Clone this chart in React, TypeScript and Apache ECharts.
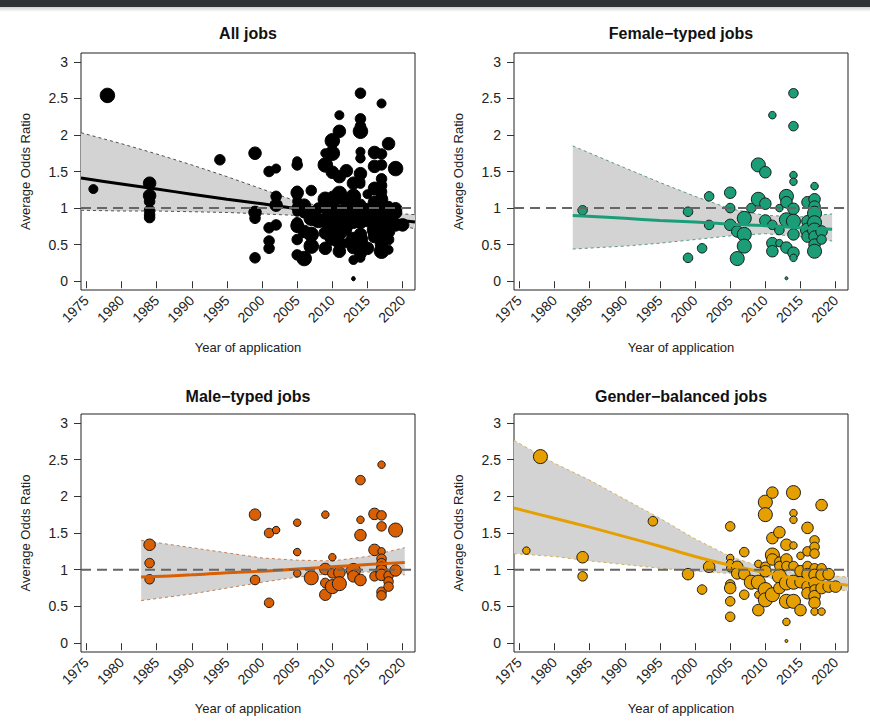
import React, { useEffect, useRef } from "react";
import * as echarts from "echarts";

// ---------------- data ----------------
// [year of application, average odds ratio, relative study weight 1..5]
const femalePoints: number[][] = [
  [1984, 0.97, 3], [1999, 0.95, 3], [1999, 0.32, 3], [2001, 0.45, 3], [2002, 1.16, 3],
  [2002, 0.77, 3], [2005, 1.21, 4], [2005, 1.0, 3], [2005, 0.77, 4], [2006, 0.68, 4],
  [2006, 0.31, 5], [2007, 0.86, 5], [2007, 0.64, 5], [2007, 0.48, 5], [2008, 1.0, 3],
  [2009, 1.59, 5], [2009, 1.12, 5], [2010, 1.49, 4], [2010, 1.06, 4], [2010, 0.83, 4],
  [2011, 2.27, 2], [2011, 0.77, 3], [2011, 0.52, 4], [2011, 0.41, 4], [2012, 1.0, 2],
  [2012, 0.7, 3], [2012, 0.52, 2], [2013, 1.16, 5], [2013, 1.08, 4], [2013, 0.84, 5],
  [2013, 0.46, 4], [2013, 0.04, 1], [2014, 2.57, 3], [2014, 2.12, 3], [2014, 1.45, 2],
  [2014, 1.36, 2], [2014, 0.99, 4], [2014, 0.82, 5], [2014, 0.64, 4], [2014, 0.39, 4],
  [2014, 0.32, 2], [2016, 1.08, 4], [2016, 0.82, 4], [2016, 0.7, 5], [2016, 0.61, 4],
  [2017, 1.3, 2], [2017, 1.12, 4], [2017, 1.02, 4], [2017, 0.93, 5], [2017, 0.8, 5],
  [2017, 0.7, 5], [2017, 0.61, 4], [2017, 0.5, 4], [2017, 0.41, 5], [2018, 0.68, 4],
  [2018, 0.57, 3],
];

const malePoints: number[][] = [
  [1984, 1.34, 4], [1984, 1.09, 3], [1984, 0.87, 3], [1999, 1.75, 4], [1999, 0.86, 3],
  [2001, 1.5, 3], [2001, 0.55, 3], [2002, 1.54, 2], [2005, 1.64, 2], [2005, 1.24, 2],
  [2005, 0.95, 2], [2007, 0.89, 5], [2009, 1.75, 2], [2009, 1.01, 4], [2009, 0.82, 3],
  [2009, 0.66, 4], [2010, 1.17, 2], [2010, 0.95, 3], [2010, 0.77, 5], [2011, 0.96, 4],
  [2011, 0.81, 5], [2013, 0.99, 5], [2013, 0.91, 4], [2014, 2.22, 3], [2014, 1.68, 2],
  [2014, 1.47, 4], [2014, 0.86, 4], [2016, 1.76, 4], [2016, 1.27, 4], [2016, 0.91, 3],
  [2017, 2.43, 2], [2017, 1.74, 3], [2017, 1.59, 3], [2017, 1.25, 2], [2017, 1.15, 3],
  [2017, 1.09, 3], [2017, 1.04, 3], [2017, 0.99, 4], [2017, 0.93, 4], [2017, 0.7, 3],
  [2017, 0.65, 3], [2018, 0.92, 3], [2018, 0.84, 3], [2018, 0.77, 3], [2019, 1.54, 5],
  [2019, 0.99, 4],
];

const balancedPoints: number[][] = [
  [1976, 1.26, 2], [1978, 2.54, 5], [1984, 1.17, 4], [1984, 0.91, 3], [1994, 1.66, 3],
  [1999, 0.94, 4], [2001, 0.73, 3], [2002, 1.04, 4], [2005, 1.59, 3], [2005, 1.16, 2],
  [2005, 1.09, 2], [2005, 1.02, 2], [2005, 0.8, 3], [2005, 0.75, 4], [2005, 0.57, 3],
  [2005, 0.36, 3], [2006, 1.04, 4], [2006, 0.95, 4], [2007, 1.24, 3], [2007, 0.94, 4],
  [2007, 0.66, 3], [2008, 0.83, 5], [2009, 1.08, 2], [2009, 0.83, 5], [2009, 0.66, 2],
  [2009, 0.45, 4], [2010, 1.92, 5], [2010, 1.75, 5], [2010, 1.04, 3], [2010, 0.98, 4],
  [2010, 0.73, 5], [2010, 0.59, 5], [2011, 2.05, 4], [2011, 1.43, 4], [2011, 1.2, 5],
  [2011, 1.14, 4], [2011, 0.66, 5], [2012, 1.51, 4], [2012, 1.11, 3], [2012, 1.05, 3],
  [2012, 0.91, 5], [2012, 0.75, 4], [2013, 1.34, 4], [2013, 1.14, 4], [2013, 1.05, 3],
  [2013, 0.82, 5], [2013, 0.57, 5], [2013, 0.29, 2], [2013, 0.03, 1], [2014, 2.05, 5],
  [2014, 1.77, 2], [2014, 1.68, 2], [2014, 1.33, 2], [2014, 1.05, 3], [2014, 0.83, 5],
  [2014, 0.57, 5], [2015, 1.19, 2], [2015, 0.98, 4], [2015, 0.83, 4], [2015, 0.45, 4],
  [2016, 1.57, 4], [2016, 1.25, 3], [2016, 1.05, 3], [2016, 0.94, 4], [2016, 0.77, 4],
  [2016, 0.68, 4], [2017, 1.4, 3], [2017, 1.31, 3], [2017, 1.22, 3], [2017, 1.02, 3],
  [2017, 0.93, 4], [2017, 0.82, 4], [2017, 0.73, 3], [2017, 0.64, 4], [2017, 0.55, 4],
  [2017, 0.43, 2], [2018, 1.88, 4], [2018, 1.02, 3], [2018, 0.93, 4], [2018, 0.75, 4],
  [2018, 0.43, 2], [2019, 0.94, 4], [2019, 0.77, 4], [2020, 0.77, 4],
];

const allPoints: number[][] = [...femalePoints, ...malePoints, ...balancedPoints];

// fitted meta-regression lines with confidence bands
const allFitYears = [1974.24, 1980, 1985, 1990, 1995, 2000, 2005, 2010, 2015, 2021.76];
const allFit = [1.41, 1.33, 1.26, 1.19, 1.12, 1.06, 0.99, 0.93, 0.88, 0.81];
const allUpper = [2.03, 1.88, 1.74, 1.59, 1.43, 1.26, 1.09, 1.0, 0.95, 0.91];
const allLower = [0.97, 0.96, 0.96, 0.95, 0.94, 0.92, 0.9, 0.87, 0.82, 0.72];

const femaleFitYears = [1982.6, 1990, 1995, 2000, 2005, 2010, 2015, 2019.5];
const femaleFit = [0.9, 0.86, 0.83, 0.81, 0.78, 0.76, 0.73, 0.71];
const femaleUpper = [1.85, 1.55, 1.35, 1.16, 0.99, 0.9, 0.88, 0.92];
const femaleLower = [0.44, 0.48, 0.52, 0.57, 0.62, 0.65, 0.61, 0.55];

const maleFitYears = [1982.8, 1990, 1995, 2000, 2005, 2010, 2015, 2020.3];
const maleFit = [0.9, 0.93, 0.96, 0.98, 1.01, 1.04, 1.07, 1.1];
const maleUpper = [1.4, 1.3, 1.23, 1.16, 1.13, 1.12, 1.18, 1.3];
const maleLower = [0.58, 0.67, 0.75, 0.83, 0.9, 0.95, 0.97, 0.93];

const balancedFitYears = [1974.24, 1980, 1985, 1990, 1995, 2000, 2005, 2010, 2015, 2021.76];
const balancedFit = [1.84, 1.7, 1.58, 1.45, 1.32, 1.18, 1.06, 0.96, 0.87, 0.79];
const balancedUpper = [2.76, 2.45, 2.22, 1.96, 1.7, 1.42, 1.18, 1.02, 0.95, 0.9];
const balancedLower = [1.22, 1.18, 1.12, 1.07, 1.02, 0.98, 0.95, 0.9, 0.8, 0.71];

const panelTitles = ["All jobs", "Female\u2212typed jobs", "Male\u2212typed jobs", "Gender\u2212balanced jobs"];
const xTicks = [1975, 1980, 1985, 1990, 1995, 2000, 2005, 2010, 2015, 2020];
const yTicks = [0, 0.5, 1, 1.5, 2, 2.5, 3];
const referenceOR = 1;
const xLabel = "Year of application";
const yLabel = "Average Odds Ratio";

// ---------------- styling ----------------
const X_MIN = 1974.24;
const X_MAX = 2021.76;
const Y_MIN = -0.12;
const Y_MAX = 3.12;
const FONT = "'Liberation Sans', Arial, Helvetica, sans-serif";
const SIZE_BY_WEIGHT = [0, 3, 7.5, 9.5, 11.5, 14];
const SIZE_BY_WEIGHT_ALL = [0, 3.5, 9, 10.5, 12.5, 14.5];

const panelColors = ["#000000", "#1b9e77", "#d95f02", "#e69f00"];
const bandBorderColors = ["#505050", "#5f9684", "#c08058", "#d2b055"];
const pointBorders = ["#000000", "#1a1a1a", "#1a1a1a", "#1a1a1a"];

const grids = [
  { left: 81, top: 53, width: 334, height: 237 },
  { left: 514, top: 53, width: 334, height: 237 },
  { left: 81, top: 414, width: 334, height: 238 },
  { left: 514, top: 414, width: 334, height: 238 },
];

export default function App() {
  const ref = useRef<HTMLDivElement>(null);

  useEffect(() => {
    if (!ref.current) return;
    const chart = echarts.init(ref.current, undefined, { renderer: "svg" });

    const panels = [
      { pts: allPoints, yrs: allFitYears, fit: allFit, up: allUpper, lo: allLower },
      { pts: femalePoints, yrs: femaleFitYears, fit: femaleFit, up: femaleUpper, lo: femaleLower },
      { pts: malePoints, yrs: maleFitYears, fit: maleFit, up: maleUpper, lo: maleLower },
      { pts: balancedPoints, yrs: balancedFitYears, fit: balancedFit, up: balancedUpper, lo: balancedLower },
    ];

    const series: any[] = [];
    panels.forEach((p, i) => {
      const common = { xAxisIndex: i, yAxisIndex: i, silent: true, symbol: "none" };
      const bandRows = p.yrs.map((y, k) => [y, p.lo[k], p.up[k]]);
      const sizes = i === 0 ? SIZE_BY_WEIGHT_ALL : SIZE_BY_WEIGHT;
      // confidence band fill (polygon through the library's coordinate system)
      series.push({
        type: "custom",
        xAxisIndex: i,
        yAxisIndex: i,
        silent: true,
        data: bandRows,
        z: 1,
        renderItem: (params: any, api: any) => {
          if (params.dataIndex !== 0) return null;
          const upperPts = bandRows.map((r) => api.coord([r[0], r[2]]));
          const lowerPts = bandRows.map((r) => api.coord([r[0], r[1]])).reverse();
          return {
            type: "polygon",
            shape: { points: upperPts.concat(lowerPts) },
            style: { fill: "#d3d3d3", stroke: "none" },
          };
        },
      });
      series.push({
        ...common,
        type: "line",
        data: p.yrs.map((y, k) => [y, p.lo[k]]),
        lineStyle: { color: bandBorderColors[i], width: 1, type: [3, 3] },
        z: 2,
      });
      series.push({
        ...common,
        type: "line",
        data: p.yrs.map((y, k) => [y, p.up[k]]),
        lineStyle: { color: bandBorderColors[i], width: 1, type: [3, 3] },
        z: 2,
      });
      series.push({
        xAxisIndex: i,
        yAxisIndex: i,
        silent: true,
        type: "scatter",
        symbol: "circle",
        data: p.pts.map((d) => [d[0], d[1], d[2]]),
        symbolSize: (v: number[]) => sizes[v[2]],
        itemStyle: {
          color: panelColors[i],
          borderColor: pointBorders[i],
          borderWidth: 1,
          opacity: 1,
        },
        z: 3,
      });
      series.push({
        ...common,
        type: "line",
        smooth: 0.3,
        data: p.yrs.map((y, k) => [y, p.fit[k]]),
        lineStyle: { color: panelColors[i], width: 3 },
        z: 4,
      });
      series.push({
        ...common,
        type: "line",
        data: [
          [X_MIN, referenceOR],
          [X_MAX, referenceOR],
        ],
        lineStyle: { color: "#666666", width: 2, type: [10, 6] },
        z: 5,
      });
    });

    const graphics: any[] = [
      { type: "rect", shape: { x: 0, y: 0, width: 870, height: 7 }, style: { fill: "#2f3337" }, silent: true },
      {
        type: "rect",
        shape: { x: 0, y: 7, width: 870, height: 5 },
        style: {
          fill: new echarts.graphic.LinearGradient(0, 0, 0, 1, [
            { offset: 0, color: "rgba(0,0,0,0.18)" },
            { offset: 1, color: "rgba(0,0,0,0)" },
          ]),
        },
        silent: true,
      },
    ];
    grids.forEach((g, i) => {
      const cx = g.left + g.width / 2;
      const top = i < 2;
      graphics.push({
        type: "text",
        x: cx,
        y: top ? 33 : 396,
        style: {
          text: panelTitles[i],
          font: `bold 16px ${FONT}`,
          fill: "#111",
          align: "center",
          verticalAlign: "middle",
          textAlign: "center",
          textVerticalAlign: "middle",
        },
      });
      graphics.push({
        type: "text",
        x: cx,
        y: top ? 347 : 708,
        style: {
          text: xLabel,
          font: `13px ${FONT}`,
          fill: "#222",
          align: "center",
          verticalAlign: "middle",
          textAlign: "center",
          textVerticalAlign: "middle",
        },
      });
      graphics.push({
        type: "text",
        x: g.left - 56,
        y: g.top + g.height / 2,
        rotation: Math.PI / 2,
        style: {
          text: yLabel,
          font: `13px ${FONT}`,
          fill: "#222",
          align: "center",
          verticalAlign: "middle",
          textAlign: "center",
          textVerticalAlign: "middle",
        },
      });
    });

    const option: any = {
      animation: false,
      backgroundColor: "#ffffff",
      grid: grids.map((g) => ({
        ...g,
        show: true,
        borderColor: "#222",
        borderWidth: 1,
        backgroundColor: "transparent",
        containLabel: false,
        outerBoundsMode: "none",
      })),
      xAxis: grids.map((_, i) => ({
        type: "value",
        gridIndex: i,
        min: X_MIN,
        max: X_MAX,
        axisLine: { show: false },
        splitLine: { show: false },
        axisTick: { show: true, inside: false, length: 7, lineStyle: { color: "#333" }, customValues: xTicks },
        axisLabel: {
          customValues: xTicks,
          rotate: 45,
          margin: 8,
          color: "#222",
          fontSize: 14,
          fontFamily: FONT,
          formatter: (v: number) => String(v),
        },
      })),
      yAxis: grids.map((_, i) => ({
        type: "value",
        gridIndex: i,
        min: Y_MIN,
        max: Y_MAX,
        axisLine: { show: false },
        splitLine: { show: false },
        axisTick: { show: true, inside: false, length: 7, lineStyle: { color: "#333" }, customValues: yTicks },
        axisLabel: {
          customValues: yTicks,
          margin: 13,
          color: "#222",
          fontSize: 14,
          fontFamily: FONT,
          formatter: (v: number) => String(v),
        },
      })),
      graphic: graphics,
      series,
    };

    chart.setOption(option);
    return () => {
      chart.dispose();
    };
  }, []);

  return (
    <div
      ref={ref}
      style={{ position: "fixed", left: 0, top: 0, width: 870, height: 723, background: "#fff" }}
    />
  );
}
